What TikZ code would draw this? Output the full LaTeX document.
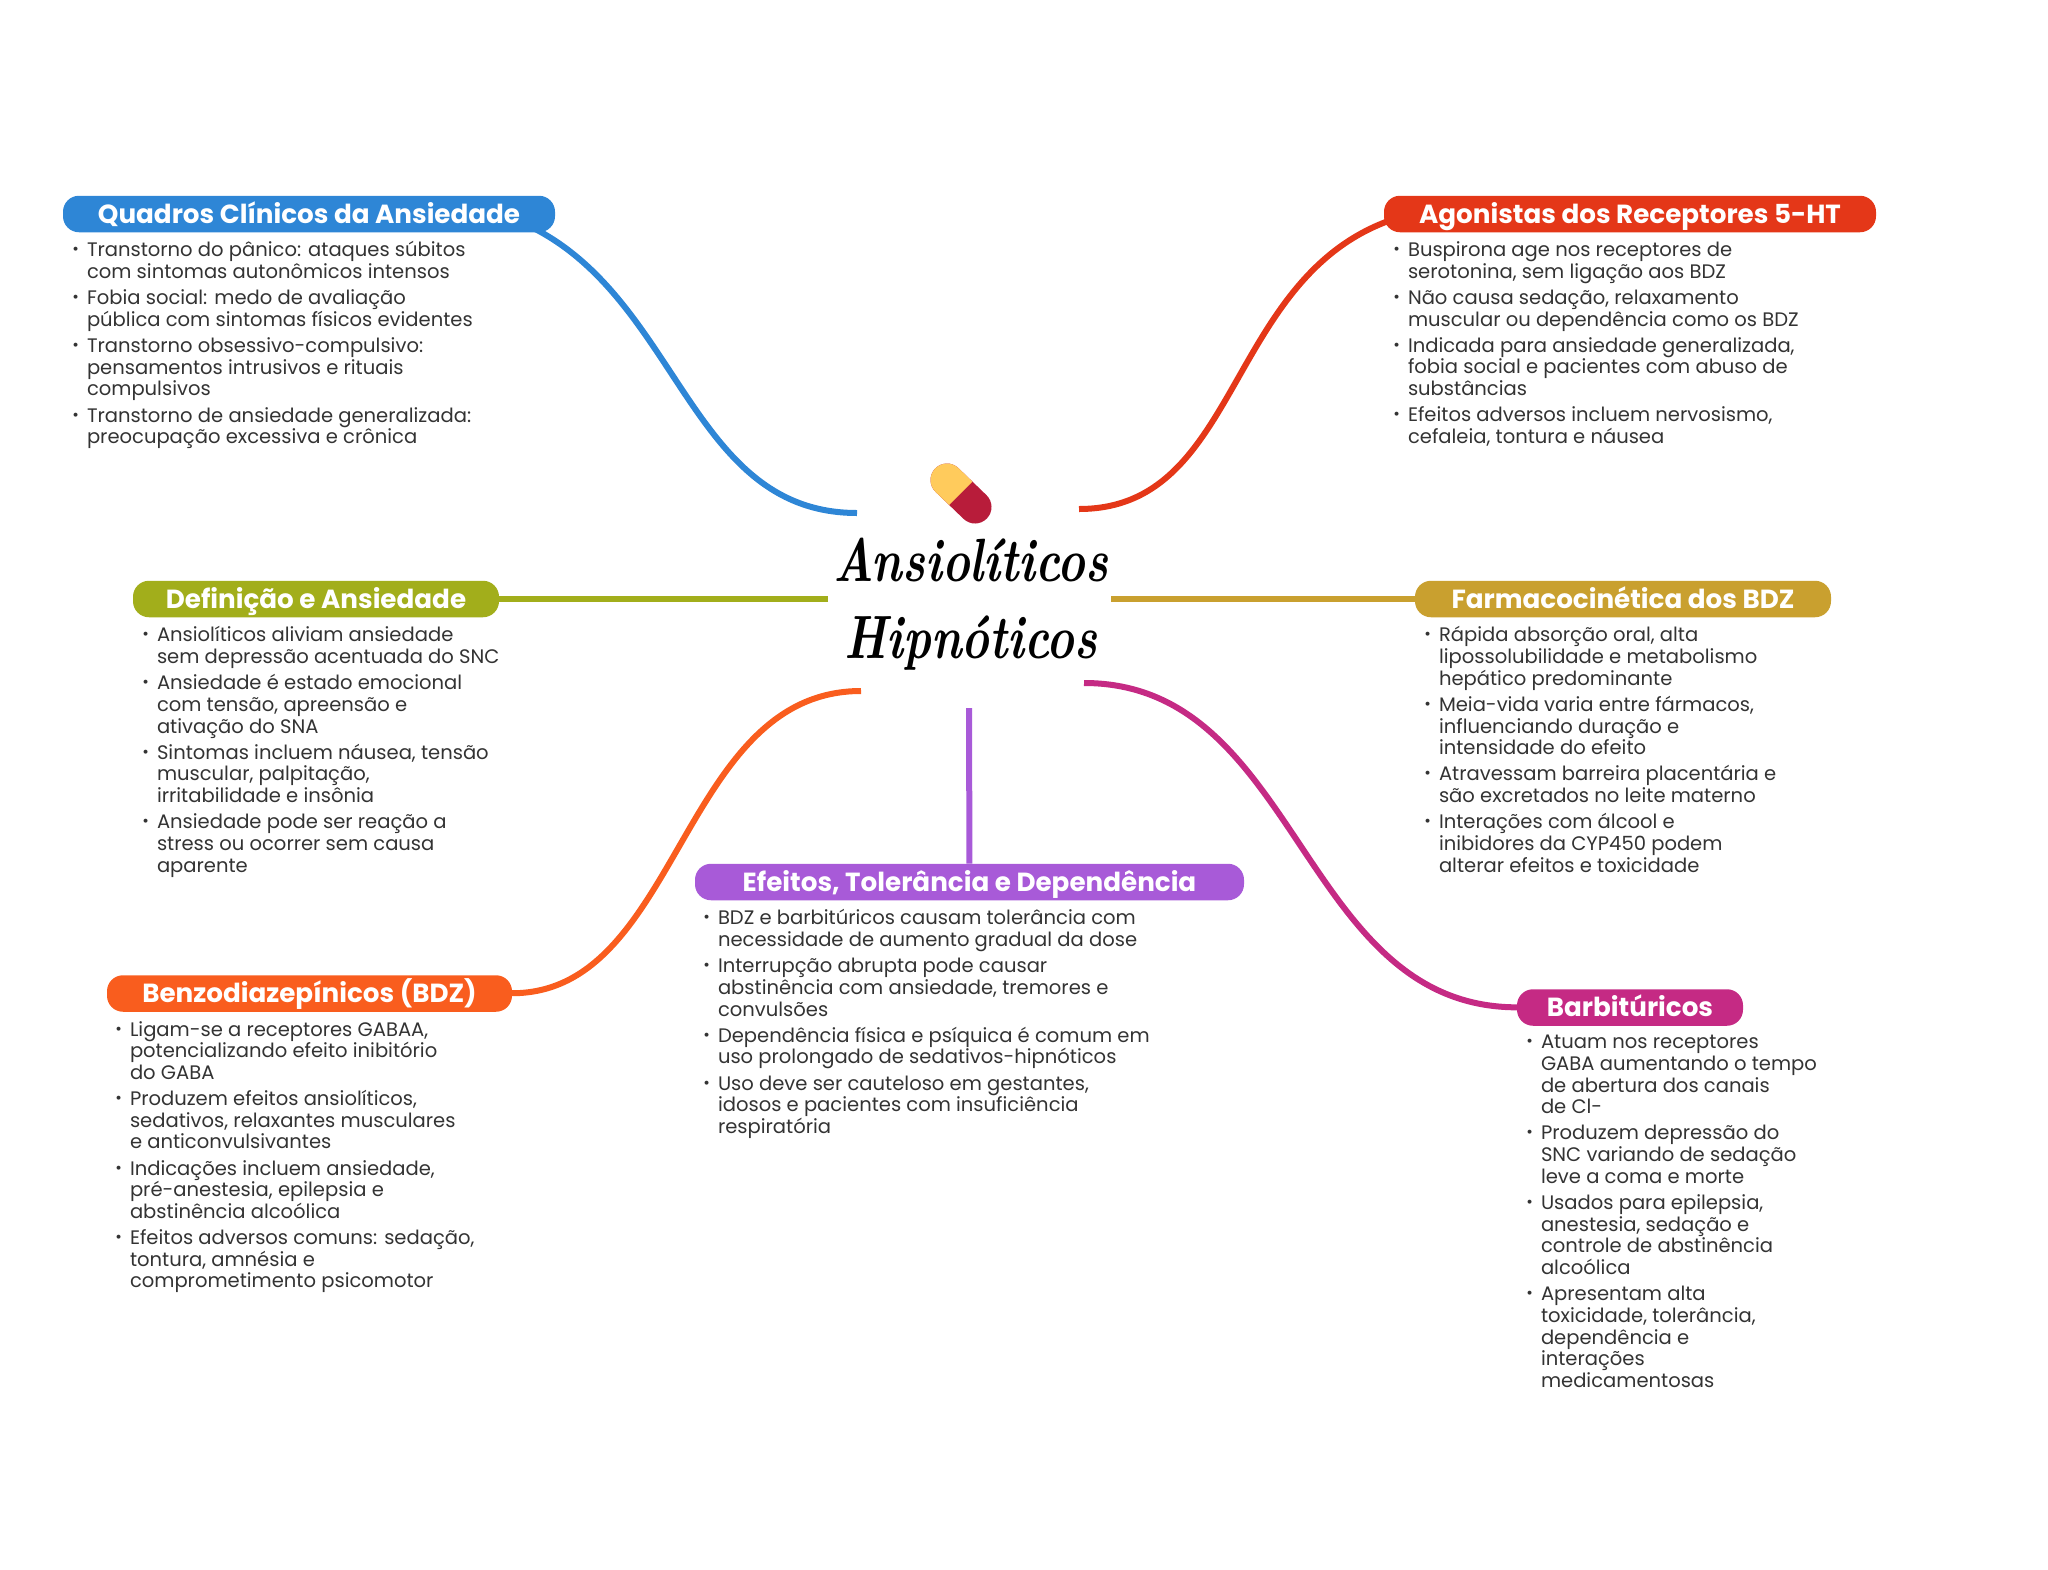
\documentclass[tikz,border=0pt]{standalone}
\usepackage{fontspec}
\setmainfont{Poppins}
\newfontfamily\titlefont{Latin Modern Roman}
\usetikzlibrary{positioning,backgrounds}
\definecolor{quadrosblue}{HTML}{2E86D6}
\definecolor{agonred}{HTML}{E43718}
\definecolor{defgreen}{HTML}{A2AE1B}
\definecolor{farmagold}{HTML}{C9A02F}
\definecolor{efeitopurple}{HTML}{A85AD8}
\definecolor{benzoorange}{HTML}{F95D1E}
\definecolor{barbmagenta}{HTML}{C52A84}
\definecolor{bodygray}{HTML}{333333}
\definecolor{pillyellow}{HTML}{FFCB5C}
\definecolor{pillred}{HTML}{B81C3A}
\newcommand{\itm}{\llap{\raisebox{2pt}{\fontsize{16}{16}\selectfont •}\hspace{8pt}}}
\begin{document}
\begin{tikzpicture}[
  x=1pt, y=-1pt,
  heading/.style={rounded corners=16pt, minimum height=36.5pt, inner sep=0pt, text=white,
    text height=21pt, text depth=3pt, font=\fontsize{26.2}{30}\selectfont\bfseries},
  itemlist/.style={inner sep=0pt, align=left, text=bodygray,
    font=\fontsize{19.55}{21.7}\selectfont},
  branch/.style={line width=6pt}
]
  \useasboundingbox (0,0) rectangle (2048,1569);
  \node[font=\fontsize{47}{77}\titlefont\bfseries\itshape, align=center] (titulo) at (971,604)
    {\scalebox{1}[1.3]{Ansiolíticos}\\\scalebox{1}[1.3]{Hipnóticos}};
  \node[heading, fill=quadrosblue, minimum width=492pt] (quadros) at (309,214) {Quadros Clínicos da Ansiedade};
  \node[heading, fill=agonred, minimum width=492pt] (agonistas) at (1630,214) {Agonistas dos Receptores 5-HT};
  \node[heading, fill=defgreen, minimum width=366pt] (definicao) at (316,599) {Definição e Ansiedade};
  \node[heading, fill=farmagold, minimum width=416pt] (farmaco) at (1623,599) {Farmacocinética dos BDZ};
  \node[heading, fill=efeitopurple, minimum width=549pt] (efeitos) at (969.5,882) {Efeitos, Tolerância e Dependência};
  \node[heading, fill=benzoorange, minimum width=405pt] (benzo) at (309.5,993.5) {Benzodiazepínicos (BDZ)};
  \node[heading, fill=barbmagenta, minimum width=226pt] (barbi) at (1630,1007.5) {Barbitúricos};
  \node[itemlist, below right=9pt and 24pt of quadros.south west] (quadroslist) {%
    \itm Transtorno do pânico: ataques súbitos\\com sintomas autonômicos intensos\\[4.4pt]
    \itm Fobia social: medo de avaliação\\pública com sintomas físicos evidentes\\[4.4pt]
    \itm Transtorno obsessivo-compulsivo:\\pensamentos intrusivos e rituais\\compulsivos\\[4.4pt]
    \itm Transtorno de ansiedade generalizada:\\preocupação excessiva e crônica};
  \node[itemlist, below right=9pt and 24pt of agonistas.south west] (agonistaslist) {%
    \itm Buspirona age nos receptores de\\serotonina, sem ligação aos BDZ\\[4.4pt]
    \itm Não causa sedação, relaxamento\\muscular ou dependência como os BDZ\\[4.4pt]
    \itm Indicada para ansiedade generalizada,\\fobia social e pacientes com abuso de\\substâncias\\[4.4pt]
    \itm Efeitos adversos incluem nervosismo,\\cefaleia, tontura e náusea};
  \node[itemlist, below right=9pt and 24pt of definicao.south west] (definicaolist) {%
    \itm Ansiolíticos aliviam ansiedade\\sem depressão acentuada do SNC\\[4.4pt]
    \itm Ansiedade é estado emocional\\com tensão, apreensão e\\ativação do SNA\\[4.4pt]
    \itm Sintomas incluem náusea, tensão\\muscular, palpitação,\\irritabilidade e insônia\\[4.4pt]
    \itm Ansiedade pode ser reação a\\stress ou ocorrer sem causa\\aparente};
  \node[itemlist, below right=9pt and 24pt of farmaco.south west] (farmacolist) {%
    \itm Rápida absorção oral, alta\\lipossolubilidade e metabolismo\\hepático predominante\\[4.4pt]
    \itm Meia-vida varia entre fármacos,\\influenciando duração e\\intensidade do efeito\\[4.4pt]
    \itm Atravessam barreira placentária e\\são excretados no leite materno\\[4.4pt]
    \itm Interações com álcool e\\inibidores da CYP450 podem\\alterar efeitos e toxicidade};
  \node[itemlist, below right=9pt and 23pt of efeitos.south west] (efeitoslist) {%
    \itm BDZ e barbitúricos causam tolerância com\\necessidade de aumento gradual da dose\\[4.4pt]
    \itm Interrupção abrupta pode causar\\abstinência com ansiedade, tremores e\\convulsões\\[4.4pt]
    \itm Dependência física e psíquica é comum em\\uso prolongado de sedativos-hipnóticos\\[4.4pt]
    \itm Uso deve ser cauteloso em gestantes,\\idosos e pacientes com insuficiência\\respiratória};
  \node[itemlist, below right=9pt and 23pt of benzo.south west] (benzolist) {%
    \itm Ligam-se a receptores GABAA,\\potencializando efeito inibitório\\do GABA\\[4.4pt]
    \itm Produzem efeitos ansiolíticos,\\sedativos, relaxantes musculares\\e anticonvulsivantes\\[4.4pt]
    \itm Indicações incluem ansiedade,\\pré-anestesia, epilepsia e\\abstinência alcoólica\\[4.4pt]
    \itm Efeitos adversos comuns: sedação,\\tontura, amnésia e\\comprometimento psicomotor};
  \node[itemlist, below right=9pt and 24pt of barbi.south west] (barbilist) {%
    \itm Atuam nos receptores\\GABA aumentando o tempo\\de abertura dos canais\\de Cl-\\[4.4pt]
    \itm Produzem depressão do\\SNC variando de sedação\\leve a coma e morte\\[4.4pt]
    \itm Usados para epilepsia,\\anestesia, sedação e\\controle de abstinência\\alcoólica\\[4.4pt]
    \itm Apresentam alta\\toxicidade, tolerância,\\dependência e\\interações\\medicamentosas};
  \coordinate (startquadros) at (857,513);
  \coordinate (startagon) at (1079,509);
  \coordinate (startdef) at (828,599);
  \coordinate (startfarma) at (1111,599);
  \coordinate (startefeito) at (969,708);
  \coordinate (startbenzo) at (861,691);
  \coordinate (startbarbi) at (1084,683);
  \begin{scope}[on background layer]
    \draw[branch, quadrosblue] (startquadros) .. controls (690,513) and (680,300) .. ([shift={(-25pt,6pt)}]quadros.south east);
    \draw[branch, agonred] (startagon) .. controls (1240,509) and (1225,280) .. ([shift={(6pt,12pt)}]agonistas.south west);
    \draw[branch, defgreen] (startdef) -- (definicao);
    \draw[branch, farmagold] (startfarma) -- (farmaco);
    \draw[branch, efeitopurple] (startefeito) -- (efeitos);
    \draw[branch, benzoorange] (startbenzo) .. controls (680,691) and (680,993) .. (benzo);
    \draw[branch, barbmagenta] (startbarbi) .. controls (1300,683) and (1300,1007) .. (barbi);
  \end{scope}
  \coordinate (pilltop) at (947,480);
  \coordinate (pillbottom) at (975,507);
  \draw[line width=33pt, line cap=round, pillred] (pilltop) -- (pillbottom);
  \begin{scope}
    \clip (990,464) -- (932,522) -- (900,490) -- (958,432) -- cycle;
    \draw[line width=33pt, line cap=round, pillyellow] (pilltop) -- (pillbottom);
  \end{scope}
\end{tikzpicture}
\end{document}
